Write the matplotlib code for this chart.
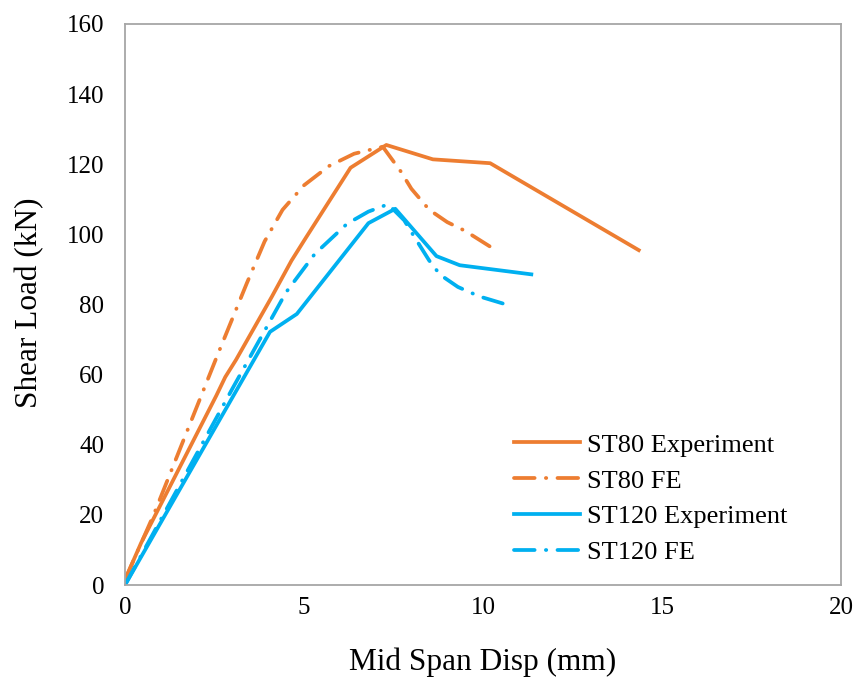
import matplotlib

matplotlib.use("Agg")
import matplotlib.pyplot as plt

plt.rcParams["font.family"] = ["Liberation Serif", "DejaVu Serif"]

# (mm, kN)
st80_exp_x = [0, 0.45, 1.5, 2.55, 2.8, 3.1, 3.7, 4.1, 4.65, 5.05, 6.3, 7.3, 8.6, 10.2, 14.35]
st80_exp_y = [1.5, 12, 33, 54, 59.3, 64.2, 75, 82.2, 92.5, 99, 119, 125.5, 121.4, 120.3, 95.5]

st80_fe_x = [0, 0.8, 1.7, 2.6, 3.4, 3.9, 4.4, 5.0, 5.7, 6.4, 7.2, 7.7, 8.0, 8.5, 9.0, 9.5, 10.2]
st80_fe_y = [1.5, 20, 43, 66, 86, 98, 107, 114, 119.5, 123, 125, 118, 113, 107, 103.5, 101, 96.5]

st120_exp_x = [0, 4.05, 4.8, 6.8, 7.55, 8.7, 9.35, 11.35]
st120_exp_y = [0, 72.2, 77.3, 103.2, 107.3, 93.8, 91.2, 88.6]

st120_fe_x = [0, 1.5, 3.0, 4.5, 5.3, 6.2, 6.8, 7.35, 7.8, 8.1, 8.5, 8.8, 9.3, 9.9, 10.55]
st120_fe_y = [0, 28, 56, 83.5, 94.4, 103, 106.5, 108.6, 104, 99, 92.5, 88.5, 85, 82.3, 80.3]

orange = "#ED7D31"
blue = "#00B0F0"
dashdot = (5.5, 3.0, 0.1, 3.0)

fig = plt.figure(figsize=(8.59, 6.78), dpi=100)
ax = fig.add_axes([125 / 859, 1 - 585 / 678, (841 - 125) / 859, (585 - 24) / 678])

lw = 2.7
ax.plot(st80_exp_x, st80_exp_y, color=orange, lw=lw, label="ST80 Experiment",
        solid_joinstyle="round")
ax.plot(st80_fe_x, st80_fe_y, color=orange, lw=lw, label="ST80 FE",
        dashes=dashdot, dash_capstyle="round")
ax.plot(st120_exp_x, st120_exp_y, color=blue, lw=lw, label="ST120 Experiment",
        solid_joinstyle="round")
ax.plot(st120_fe_x, st120_fe_y, color=blue, lw=lw, label="ST120 FE",
        dashes=dashdot, dash_capstyle="round")

ax.set_xlim(0, 20)
ax.set_ylim(0, 160)
ax.set_xticks([0, 5, 10, 15, 20])
ax.set_yticks(range(0, 161, 20))
ax.tick_params(length=0, labelsize=18, colors="black")
ax.tick_params(axis="x", pad=9)
ax.tick_params(axis="y", pad=15)

for side in ax.spines.values():
    side.set_color("#A6A6A6")
    side.set_linewidth(1.3)

ax.set_xlabel("Mid Span Disp (mm)", fontsize=22.5, va="center")
ax.set_ylabel("Shear Load (kN)", fontsize=22.5, va="center")
ax.xaxis.set_label_coords(0.5, -0.137)
ax.yaxis.set_label_coords(-0.133, 0.504)

ax.legend(loc="upper left", bbox_to_anchor=(501 / 859, 1 - 420 / 678),
          bbox_transform=fig.transFigure, frameon=False, fontsize=19,
          borderpad=0, handlelength=2.5, handletextpad=0.27, labelspacing=0.47)

fig.savefig("out.png", dpi=100)
